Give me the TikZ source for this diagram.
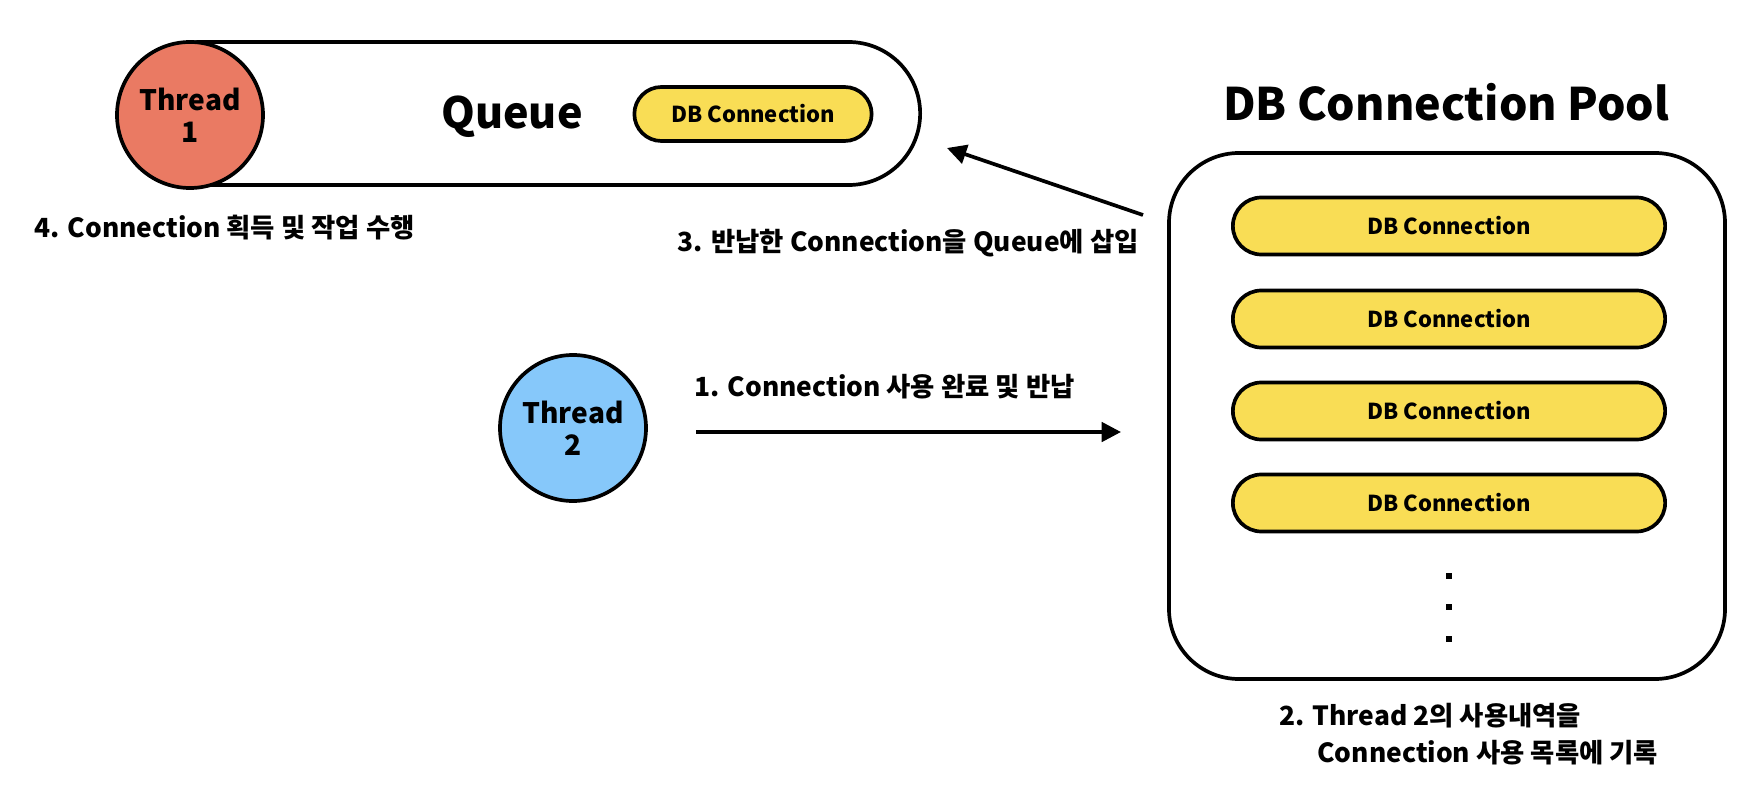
\documentclass[tikz,border=0pt]{standalone}
\usepackage{fontspec}
\setmainfont{Noto Sans CJK KR}
\usepackage{tikz}
\usetikzlibrary{arrows.meta, positioning, shapes.misc}
\definecolor{threadred}{HTML}{EA7A63}
\definecolor{threadblue}{HTML}{86C8FA}
\definecolor{connyellow}{HTML}{F9DD55}

\begin{document}
\begin{tikzpicture}[x=0.2mm, y=-0.2mm, font=\bfseries,
    thread/.style={circle, draw, line width=2.1pt, minimum size=29.2mm, inner sep=0pt,
                   align=center, font=\bfseries\fontsize{16}{18}\selectfont},
    conn/.style={rounded rectangle, draw, line width=2.1pt, fill=connyellow,
                 minimum width=88.8mm, minimum height=11.4mm, font=\bfseries\fontsize{12.5}{14}\selectfont},
    steplabel/.style={inner sep=0pt, font=\bfseries\fontsize{15}{17}\selectfont},
    dotbox/.style={fill, inner sep=0pt, minimum size=1.3mm},
    arr/.style={-{Triangle[length=11pt, width=11pt]}, line width=2.1pt}]
    \useasboundingbox (0,0) rectangle (1754,792);

    % queue with thread 1 at its head
    \node[rounded rectangle, draw, line width=2.1pt, minimum width=160.6mm, minimum height=28.6mm] (queue) at (524.5,113.5) {};
    \node[font=\bfseries\fontsize{24.5}{28}\selectfont] (queuetitle) at (512,117) {Queue};
    \node[conn, minimum width=49.8mm, minimum height=10.8mm] (qconn) at (753,114) {DB Connection};
    \node[thread, fill=threadred] (t1) at (190,115) {Thread\\1};
    \node[steplabel, anchor=west] (step4) at (34,228) {4. Connection 획득 및 작업 수행};

    % connection pool
    \node[font=\bfseries\fontsize{25.5}{30}\selectfont] (pooltitle) at (1446,102) {DB Connection Pool};
    \node[draw, line width=2.1pt, rounded corners=14mm, minimum width=111.2mm, minimum height=105.2mm] (pool) at (1447,416) {};
    \node[conn] (c1) at (1449,226) {DB Connection};
    \node[conn] (c2) at (1449,319) {DB Connection};
    \node[conn] (c3) at (1449,411) {DB Connection};
    \node[conn] (c4) at (1449,503) {DB Connection};
    \node[dotbox] (d1) at (1449,576) {};
    \node[dotbox] (d2) at (1449,607) {};
    \node[dotbox] (d3) at (1449,639) {};
    \node[steplabel, anchor=west] (step2a) at (1279,716) {2. Thread 2의 사용내역을};
    \node[steplabel, anchor=west] (step2b) at (1317,753) {Connection 사용 목록에 기록};

    % thread 2 returns its connection
    \node[thread, fill=threadblue] (t2) at (573,428) {Thread\\2};
    \node[steplabel, anchor=west] (step1) at (694,387) {1. Connection 사용 완료 및 반납};
    \coordinate (a1s) at (696,432);
    \coordinate (a1e) at (1121,432);
    \draw[arr] (a1s) -- (a1e);

    % back into the queue
    \coordinate (a3s) at (1143,215);
    \coordinate (a3e) at (947,148);
    \draw[arr] (a3s) -- (a3e);
    \node[steplabel, anchor=east] (step3) at (1139,243) {3. 반납한 Connection을 Queue에 삽입};
\end{tikzpicture}
\end{document}
